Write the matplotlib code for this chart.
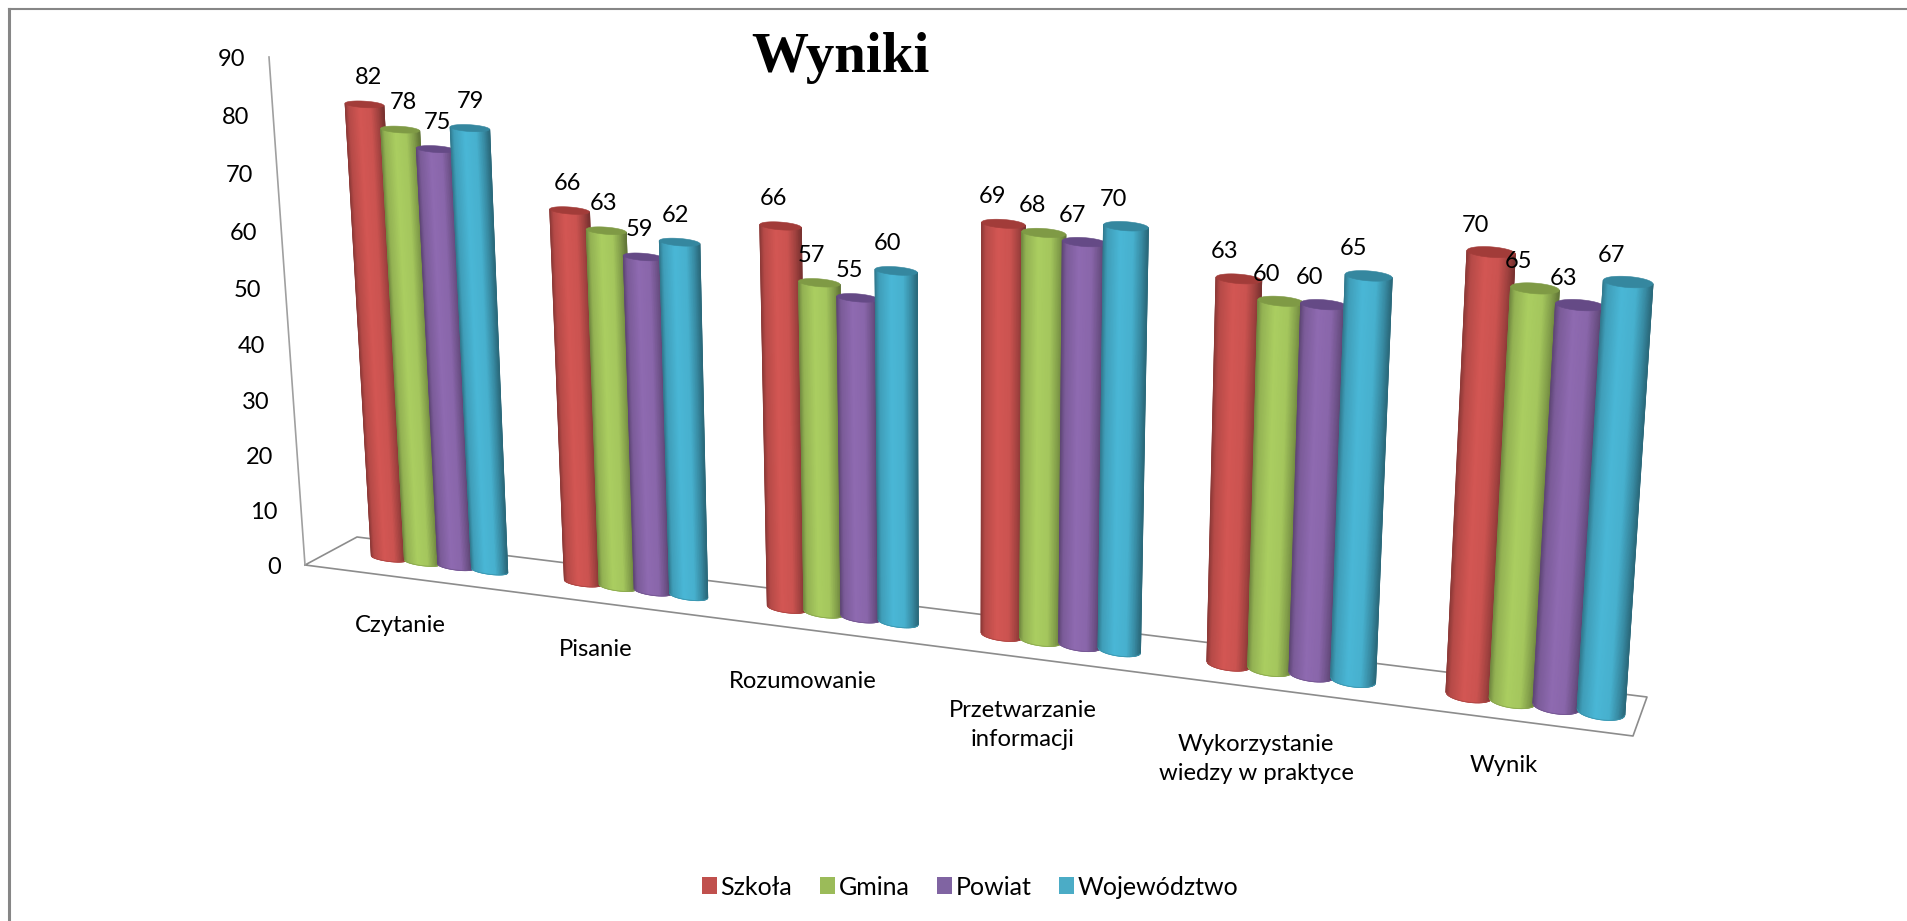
import numpy as np
import matplotlib
matplotlib.use('Agg')
import matplotlib.pyplot as plt
from matplotlib.colors import LinearSegmentedColormap, to_rgb
from matplotlib.patches import Patch, Polygon

categories = ['Czytanie', 'Pisanie', 'Rozumowanie', 'Przetwarzanie\ninformacji',
              'Wykorzystanie\nwiedzy w praktyce', 'Wynik']
series_names = ['Szkoła', 'Gmina', 'Powiat', 'Województwo']
szkola = [82, 66, 66, 69, 63, 70]
gmina = [78, 63, 57, 68, 60, 65]
powiat = [75, 59, 55, 67, 60, 63]
wojewodztwo = [79, 62, 60, 70, 65, 67]
y_ticks = [0, 10, 20, 30, 40, 50, 60, 70, 80, 90]

# layout, in pixels of the 1907x921 picture
base_colors = ['#CB5350', '#A4C65D', '#8966AA', '#47B0CE']
top_colors = ['#A23C39', '#7F9A45', '#654A86', '#35879F']
cat_label_pos = [(400, 625), (596, 649), (803, 681), (1023, 725), (1256, 759), (1504, 765)]
floor = [(305, 565), (1633, 736), (1647, 697), (357, 537)]
axis_top = (269, 57)
step = 0.175
half = step * 0.53
v_max = 90.0
shade_t = [-1, -0.8, -0.25, 0.35, 0.75, 1]
shade_k = [0.70, 0.90, 1.04, 1.0, 0.78, 0.60]


def fit_homography(src, dst):
    a = []
    b = []
    for (s, v), (x, y) in zip(src, dst):
        a.append([s, v, 1, 0, 0, 0, -s * x, -v * x])
        a.append([0, 0, 0, s, v, 1, -s * y, -v * y])
        b += [x, y]
    return np.append(np.linalg.solve(np.array(a), np.array(b)), 1).reshape(3, 3)


s0 = -1.5 * step
s1 = 5 + 1.5 * step
H = fit_homography([(s0, 0), (s1, 0), (s0, v_max), (s1, v_max)],
                   [(389, 558), (1601, 712), (362, 58), (1638, 126)])


def bump(s):
    u = (s - s0) / (s1 - s0)
    return 4 * u * (1 - u)


def project(s, v):
    p = H @ np.array([s, v, 1.0])
    return p[0] / p[2] + 4.5 * bump(s), p[1] / p[2]


def axis_point(v):
    t = v / v_max
    r = 1.044
    t = t / (t + (1 - t) * r)
    return (floor[0][0] + (axis_top[0] - floor[0][0]) * t,
            floor[0][1] + (axis_top[1] - floor[0][1]) * t)


def draw_cylinder(ax, s, v, color, top_color, order):
    rgb = np.array(to_rgb(color))
    ts = np.linspace(-1, 1, 61)
    group = s / 5.0
    # ellipse flatness and the flare at the top differ across the chart
    e_top = 0.17 + 0.05 * group
    e_bot = 0.20 + 0.12 * group
    h_top = half * (1 + 0.06 * (1 - group) * v / v_max)

    def ring(val, h, e):
        x0, y0 = project(s, val)
        x1, y1 = project(s + h, val)
        hw = x1 - x0
        return x0, y0, x1 - x0, y1 - y0, e * hw

    xb, yb, dxb, dyb, eb = ring(0, half, e_bot)
    xt, yt, dxt, dyt, et = ring(v, h_top, e_top)
    root = np.sqrt(np.clip(1 - ts * ts, 0, 1))
    X = np.array([xb + ts * dxb, xt + ts * dxt])
    Y = np.array([yb + ts * dyb + eb * root, yt + ts * dyt + et * root])
    C = np.array([ts, ts])
    stops = [((t + 1) / 2, np.clip(rgb * k, 0, 1)) for t, k in zip(shade_t, shade_k)]
    cmap = LinearSegmentedColormap.from_list('cyl', stops)
    ax.pcolormesh(X, Y, C, shading='gouraud', cmap=cmap, vmin=-1, vmax=1, zorder=order)
    # soft outline so the mesh edge is not jagged
    ax.plot(X[0], Y[0], color=rgb * 0.85, lw=0.6, zorder=order)
    ax.plot(X[:, 0], Y[:, 0], color=rgb * 0.70, lw=0.6, zorder=order)
    ax.plot(X[:, -1], Y[:, -1], color=rgb * 0.60, lw=0.6, zorder=order)
    # top cap
    ang = np.linspace(0, 2 * np.pi, 60)
    cap = np.column_stack([xt + dxt * np.cos(ang), yt + dyt * np.cos(ang) + et * np.sin(ang)])
    ax.add_patch(Polygon(cap, closed=True, facecolor=top_color, edgecolor=top_color, lw=0.4, zorder=order + 0.1))


plt.rcParams['font.family'] = ['Lato', 'DejaVu Sans']
fig = plt.figure(figsize=(19.07, 9.21), dpi=100)
ax = fig.add_axes([0, 0, 1, 1])

# chart frame
ax.plot([8.5, 8.5], [921, 9.5], color='#868686', lw=2.2, zorder=1)
ax.plot([8.5, 1907], [9.5, 9.5], color='#868686', lw=1.5, zorder=1)

# floor and value axis
fx = [p[0] for p in floor] + [floor[0][0]]
fy = [p[1] for p in floor] + [floor[0][1]]
ax.plot(fx, fy, color='#8C8C8C', lw=1.2, zorder=2)
ax.plot([floor[0][0], axis_top[0]], [floor[0][1], axis_top[1]], color='#A0A0A0', lw=1.2, zorder=2)

for tick in y_ticks:
    x, y = axis_point(tick)
    ax.text(x - 24, y + 2, str(tick), ha='right', va='center', fontsize=17, color='black')

series = [szkola, gmina, powiat, wojewodztwo]
for i in range(len(categories)):
    for j, values in enumerate(series):
        s = i + (j - 1.5) * step
        draw_cylinder(ax, s, values[i], base_colors[j], top_colors[j], 3 + i + j * 0.2)
        x, y = project(s, values[i])
        ax.text(x + 3 - 19 * s / 5 - 3.5 * bump(s), y - 27, str(values[i]), ha='center', va='center',
                fontsize=17, color='black', zorder=20)

for name, (x, y) in zip(categories, cat_label_pos):
    ax.text(x, y, name, ha='center', va='center', fontsize=17.2, color='black', linespacing=1.45)

ax.text(840, 58, 'Wyniki', ha='center', va='center', fontsize=41, fontweight='bold',
        family='Liberation Serif', color='black')

handles = [Patch(facecolor=c, edgecolor='none') for c in ['#C0504D', '#9BBB59', '#8064A2', '#4BACC6']]
ax.legend(handles, series_names, loc='center', bbox_to_anchor=(970 / 1907, 1 - 887 / 921),
          bbox_transform=fig.transFigure, ncol=4, frameon=False, fontsize=18,
          handlelength=0.6, handleheight=0.68, handletextpad=0.15, columnspacing=1.1)

ax.set_xlim(0, 1907)
ax.set_ylim(921, 0)
ax.axis('off')

fig.savefig('out.png', dpi=100, facecolor='white')
